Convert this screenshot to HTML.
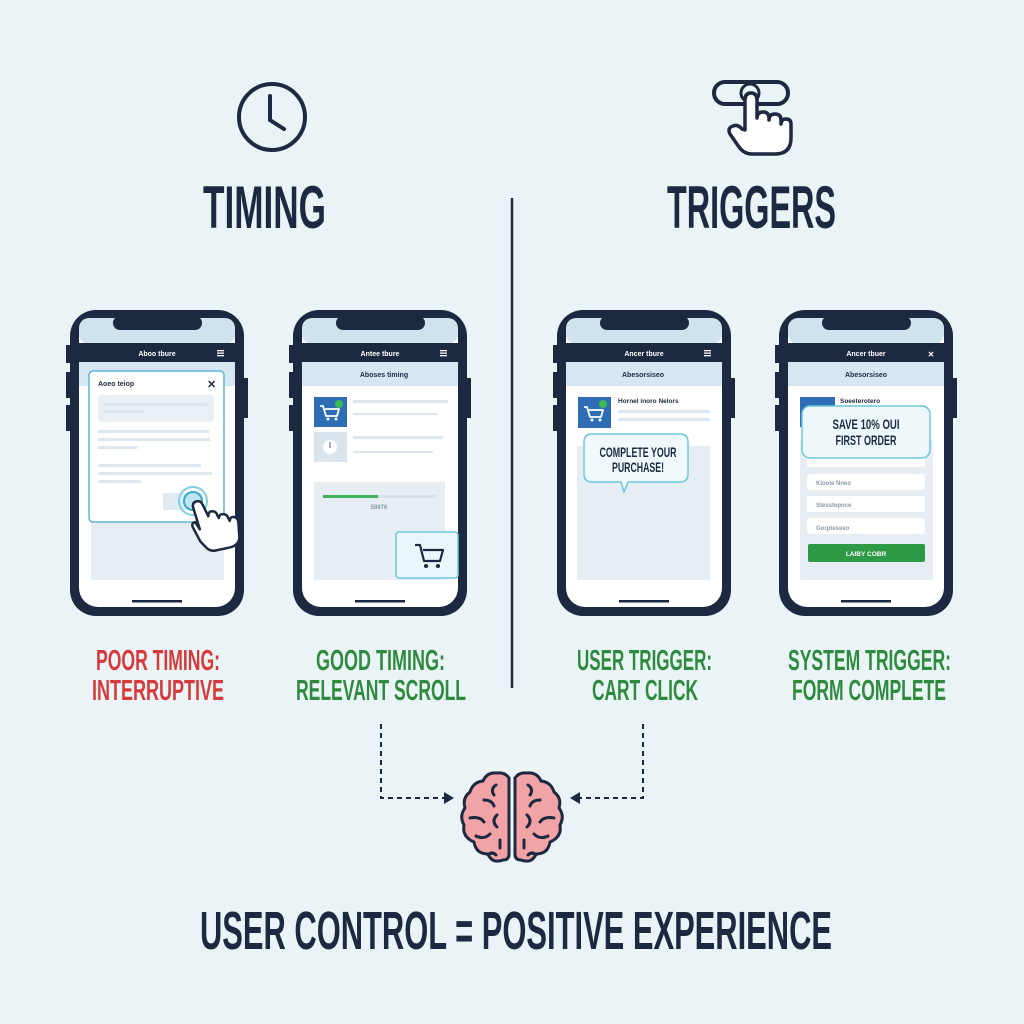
<!DOCTYPE html>
<html><head><meta charset="utf-8"><style>
html,body{margin:0;padding:0;background:#eaf4f7;}
svg{display:block}
text{font-family:"Liberation Sans Narrow","Liberation Sans",sans-serif;font-weight:bold}
</style></head><body>
<svg width="1024" height="1024" viewBox="0 0 1024 1024" xmlns="http://www.w3.org/2000/svg">
<defs>
<g id="wcart"><path d="M-9 -7 h3 l3 10 h11 l2-7 h-14" fill="none" stroke="#fff" stroke-width="1.8" stroke-linejoin="round"/><circle cx="-1" cy="6" r="1.5" fill="#fff"/><circle cx="7" cy="6" r="1.5" fill="#fff"/></g>
</defs>
<rect width="1024" height="1024" fill="#eaf4f7"/>
<circle cx="272" cy="117" r="33" fill="none" stroke="#1d2940" stroke-width="4"/>
<path d="M270 96 V120 L284 129" fill="none" stroke="#1d2940" stroke-width="4" stroke-linecap="round"/>
<rect x="714" y="82" width="74" height="22" rx="11" fill="none" stroke="#1d2940" stroke-width="4"/>
<circle cx="750" cy="93" r="9" fill="none" stroke="#1d2940" stroke-width="3"/>
<path d="M745 130 V100 q0-7 6-7 q6 0 6 7 V118 q0-6 6-6 q6 0 6 6 v2 q0-6 6-6 q6 0 6 6 v4 q0-5 5-5 q5 0 5 5 V138 q0 16-16 16 H752 q-8 0-13-7 L730 134 q-3-6 3-8 q5-2 9 3 z" fill="#fff" stroke="#1d2940" stroke-width="3.5" stroke-linejoin="round"/>
<text x="203" y="228" font-size="60" fill="#1d2940" textLength="123" lengthAdjust="spacingAndGlyphs">TIMING</text>
<text x="667" y="228" font-size="60" fill="#1d2940" textLength="169" lengthAdjust="spacingAndGlyphs">TRIGGERS</text>
<line x1="512" y1="198" x2="512" y2="688" stroke="#1d2940" stroke-width="2.5"/>

<g id="p1">
<rect x="70" y="310" width="174" height="306" rx="26" fill="#1d2940"/>
<rect x="66" y="345" width="6" height="18" fill="#1d2940"/><rect x="66" y="372" width="6" height="26" fill="#1d2940"/><rect x="66" y="405" width="6" height="26" fill="#1d2940"/>
<rect x="243" y="378" width="5" height="40" fill="#1d2940"/>
<rect x="79" y="318" width="156" height="289" rx="19" fill="#fff"/>
<rect x="79" y="318" width="156" height="26" rx="10" fill="#cfe3ee"/>
<rect x="113" y="316" width="89" height="14" rx="7" fill="#1d2940"/>
<rect x="79" y="343" width="156" height="19" fill="#1d2940"/>
<rect x="79" y="362" width="156" height="24" fill="#d6e7f1"/>
<rect x="91" y="386" width="133" height="194" fill="#e6eef3"/>
<rect x="132" y="600" width="50" height="2.5" fill="#1d2940"/>
</g>
<text x="157" y="356" font-size="7" fill="#fff" text-anchor="middle">Aboo tbure</text>
<g fill="#fff"><rect x="217" y="350" width="7" height="1.3"/><rect x="217" y="352.5" width="7" height="1.3"/><rect x="217" y="355" width="7" height="1.3"/></g>
<rect x="89" y="371" width="135" height="151" rx="4" fill="#fff" stroke="#5bb7d8" stroke-width="1.5"/>
<text x="98" y="386" font-size="7" fill="#1d2940">Aoeo teiop</text>
<text x="207" y="388" font-size="11" fill="#1d2940" font-weight="normal">✕</text>
<rect x="98" y="395" width="116" height="27" rx="3" fill="#e8f0f5"/>
<rect x="104" y="403" width="103" height="3" fill="#d8e6ee"/><rect x="104" y="410" width="40" height="3" fill="#d8e6ee"/>
<g fill="#dbe8ef"><rect x="98" y="430" width="111" height="3"/><rect x="98" y="438" width="112" height="3"/><rect x="98" y="446" width="39" height="3"/><rect x="98" y="464" width="103" height="3"/><rect x="98" y="472" width="114" height="3"/><rect x="98" y="480" width="43" height="3"/></g>
<rect x="163" y="493" width="40" height="17" rx="2" fill="#e0eaf0"/>
<circle cx="193" cy="501" r="14" fill="none" stroke="#7fd0e6" stroke-width="2"/>
<circle cx="193" cy="501" r="9" fill="#bfe6f2" stroke="#3aa9c7" stroke-width="2"/>
<path d="M196 540 L192 526 q-2-6 3-6 l3 8 L196 505 q0-5 5-5 q4 0 5 5 l3 12 q1-5 5-4 q4 1 4 5 l1 3 q1-4 5-3 q4 1 4 5 l1 3 q1-4 5-3 q4 2 3 7 l-2 14 q-2 8-12 8 h-14 q-5 0-8-4 z" fill="#fff" stroke="#1d2940" stroke-width="2.5" stroke-linejoin="round" transform="rotate(-12 205 520)"/>

<use href="#p1" x="223"/>
<text x="380" y="356" font-size="7" fill="#fff" text-anchor="middle">Antee tbure</text>
<g fill="#fff"><rect x="440" y="350" width="7" height="1.3"/><rect x="440" y="352.5" width="7" height="1.3"/><rect x="440" y="355" width="7" height="1.3"/></g>
<text x="384" y="377" font-size="7" fill="#1d2940" text-anchor="middle">Aboses timing</text>
<rect x="302" y="386" width="156" height="160" fill="#fff"/>
<rect x="314" y="397" width="33" height="30" fill="#2e6cb5"/>
<use href="#wcart" x="329" y="413"/>
<circle cx="339" cy="404" r="4" fill="#3dbb56"/>
<rect x="314" y="432" width="33" height="30" fill="#d9e5ec"/>
<circle cx="330" cy="447" r="7" fill="#fff"/><rect x="329" y="442" width="2" height="6" fill="#aab"/>
<g fill="#dde6ec"><rect x="353" y="400" width="95" height="3"/><rect x="353" y="413" width="85" height="2"/><rect x="353" y="436" width="90" height="3"/><rect x="353" y="451" width="80" height="2"/></g>
<rect x="314" y="482" width="131" height="98" fill="#e6eef3"/>
<rect x="323" y="495" width="113" height="3" fill="#d7e2e8"/><rect x="323" y="495" width="55" height="3" fill="#3db35a"/>
<text x="379" y="509" font-size="6" fill="#8a9aa6" text-anchor="middle" font-weight="normal">58676</text>
<rect x="396" y="532" width="62" height="46" rx="3" fill="#eaf6fa" stroke="#6cc7dd" stroke-width="1.5"/>
<path d="M415 545 h5 l4 16 h16 l3-11 h-20" fill="none" stroke="#1d2940" stroke-width="2.2" stroke-linejoin="round"/>
<circle cx="426" cy="566" r="2" fill="#1d2940"/><circle cx="438" cy="566" r="2" fill="#1d2940"/>

<use href="#p1" x="487"/>
<text x="644" y="356" font-size="7" fill="#fff" text-anchor="middle">Ancer tbure</text>
<g fill="#fff"><rect x="704" y="350" width="7" height="1.3"/><rect x="704" y="352.5" width="7" height="1.3"/><rect x="704" y="355" width="7" height="1.3"/></g>
<text x="643" y="377" font-size="7" fill="#1d2940" text-anchor="middle">Abesorsiseo</text>
<rect x="566" y="386" width="156" height="194" fill="#fff"/>
<rect x="578" y="397" width="33" height="31" fill="#2e6cb5"/>
<use href="#wcart" x="593" y="414"/>
<circle cx="603" cy="404" r="4" fill="#3dbb56"/>
<text x="618" y="403" font-size="6.5" fill="#1d2940">Hornel inoro Nelors</text>
<rect x="618" y="410" width="92" height="3" fill="#dbe8ef"/><rect x="618" y="418" width="92" height="3" fill="#dbe8ef"/>
<rect x="577" y="446" width="133" height="134" fill="#e6eef3"/>
<path d="M592 434 h88 q8 0 8 8 v32 q0 8-8 8 h-52 l-4 10 l-3-10 h-29 q-8 0-8-8 v-32 q0-8 8-8 z" fill="#f0f9fc" stroke="#6cc7dd" stroke-width="1.5"/>
<text x="638" y="457" font-size="14" fill="#1d2940" text-anchor="middle" textLength="77" lengthAdjust="spacingAndGlyphs">COMPLETE YOUR</text>
<text x="638" y="472" font-size="14" fill="#1d2940" text-anchor="middle" textLength="52" lengthAdjust="spacingAndGlyphs">PURCHASE!</text>

<use href="#p1" x="709"/>
<text x="866" y="356" font-size="7" fill="#fff" text-anchor="middle">Ancer tbuer</text>
<text x="931" y="357" font-size="8" fill="#fff" text-anchor="middle" font-weight="normal">✕</text>
<text x="866" y="377" font-size="7" fill="#1d2940" text-anchor="middle">Abesorsiseo</text>
<rect x="788" y="386" width="156" height="194" fill="#fff"/>
<rect x="800" y="397" width="35" height="30" fill="#2e6cb5"/>
<text x="840" y="403" font-size="6.5" fill="#1d2940">Soeeterotero</text>
<rect x="800" y="440" width="133" height="140" fill="#e6eef3"/>
<g fill="#fff"><rect x="807" y="452" width="118" height="15" rx="2"/><rect x="807" y="474" width="118" height="16" rx="2"/><rect x="807" y="496" width="118" height="16" rx="2"/><rect x="807" y="518" width="118" height="16" rx="2"/></g>
<g font-size="6" fill="#8a9aa6" font-weight="normal"><text x="816" y="485">Kioole Nneo</text><text x="816" y="507">Stesstepoce</text><text x="816" y="530">Gorpteseeo</text></g>
<rect x="808" y="544" width="117" height="18" rx="2" fill="#2e9a45"/>
<text x="866" y="556" font-size="6.5" fill="#fff" text-anchor="middle">LAIBY COBR</text>
<rect x="802" y="406" width="128" height="52" rx="8" fill="#eef8fb" stroke="#6cc7dd" stroke-width="1.5"/>
<text x="866" y="429" font-size="14" fill="#1d2940" text-anchor="middle" textLength="67" lengthAdjust="spacingAndGlyphs">SAVE 10% OUI</text>
<text x="866" y="445" font-size="14" fill="#1d2940" text-anchor="middle" textLength="61" lengthAdjust="spacingAndGlyphs">FIRST ORDER</text>

<g font-size="29">
<text x="96" y="670" fill="#d63a3a" textLength="124" lengthAdjust="spacingAndGlyphs">POOR TIMING:</text>
<text x="92" y="700" fill="#d63a3a" textLength="132" lengthAdjust="spacingAndGlyphs">INTERRUPTIVE</text>
<text x="316" y="670" fill="#2e8b3e" textLength="129" lengthAdjust="spacingAndGlyphs">GOOD TIMING:</text>
<text x="296" y="700" fill="#2e8b3e" textLength="170" lengthAdjust="spacingAndGlyphs">RELEVANT SCROLL</text>
<text x="577" y="670" fill="#2e8b3e" textLength="135" lengthAdjust="spacingAndGlyphs">USER TRIGGER:</text>
<text x="592" y="700" fill="#2e8b3e" textLength="106" lengthAdjust="spacingAndGlyphs">CART CLICK</text>
<text x="788" y="670" fill="#2e8b3e" textLength="163" lengthAdjust="spacingAndGlyphs">SYSTEM TRIGGER:</text>
<text x="792" y="700" fill="#2e8b3e" textLength="154" lengthAdjust="spacingAndGlyphs">FORM COMPLETE</text>
</g>

<path d="M381 724 V798 H446" fill="none" stroke="#1d2940" stroke-width="2" stroke-dasharray="5 4"/>
<path d="M444 792 L454 798 L444 804 z" fill="#1d2940"/>
<path d="M643 724 V798 H578" fill="none" stroke="#1d2940" stroke-width="2" stroke-dasharray="5 4"/>
<path d="M580 792 L570 798 L580 804 z" fill="#1d2940"/>

<g stroke="#1d2940" stroke-width="3" fill="#f1a3a6" stroke-linejoin="round" stroke-linecap="round">
<path d="M509 778 q-4-6-12-5 q-10-1-14 8 q-10 1-13 11 q-8 6-5 16 q-6 8-1 17 q-2 12 10 17 q2 12 14 12 q4 10 15 6 q6 0 6-6 z"/>
<path d="M515 778 q4-6 12-5 q10-1 14 8 q10 1 13 11 q8 6 5 16 q6 8 1 17 q2 12-10 17 q-2 12-14 12 q-4 10-15 6 q-6 0-6-6 z"/>
<path fill="none" d="M496 785 q-6 4-2 10 M484 800 q8 0 10 6 M470 818 q10-2 14 4 M497 815 q-6 6 0 12 M476 836 q8 4 14-2 M500 840 v8 M488 855 q4-4 8 0"/>
<path fill="none" d="M528 785 q6 4 2 10 M540 800 q-8 0-10 6 M554 818 q-10-2-14 4 M527 815 q6 6 0 12 M548 836 q-8 4-14-2 M524 840 v8 M536 855 q-4-4-8 0"/>
</g>

<text x="200" y="949" font-size="54" fill="#1d2940" textLength="632" lengthAdjust="spacingAndGlyphs">USER CONTROL = POSITIVE EXPERIENCE</text>
</svg>
</body></html>
